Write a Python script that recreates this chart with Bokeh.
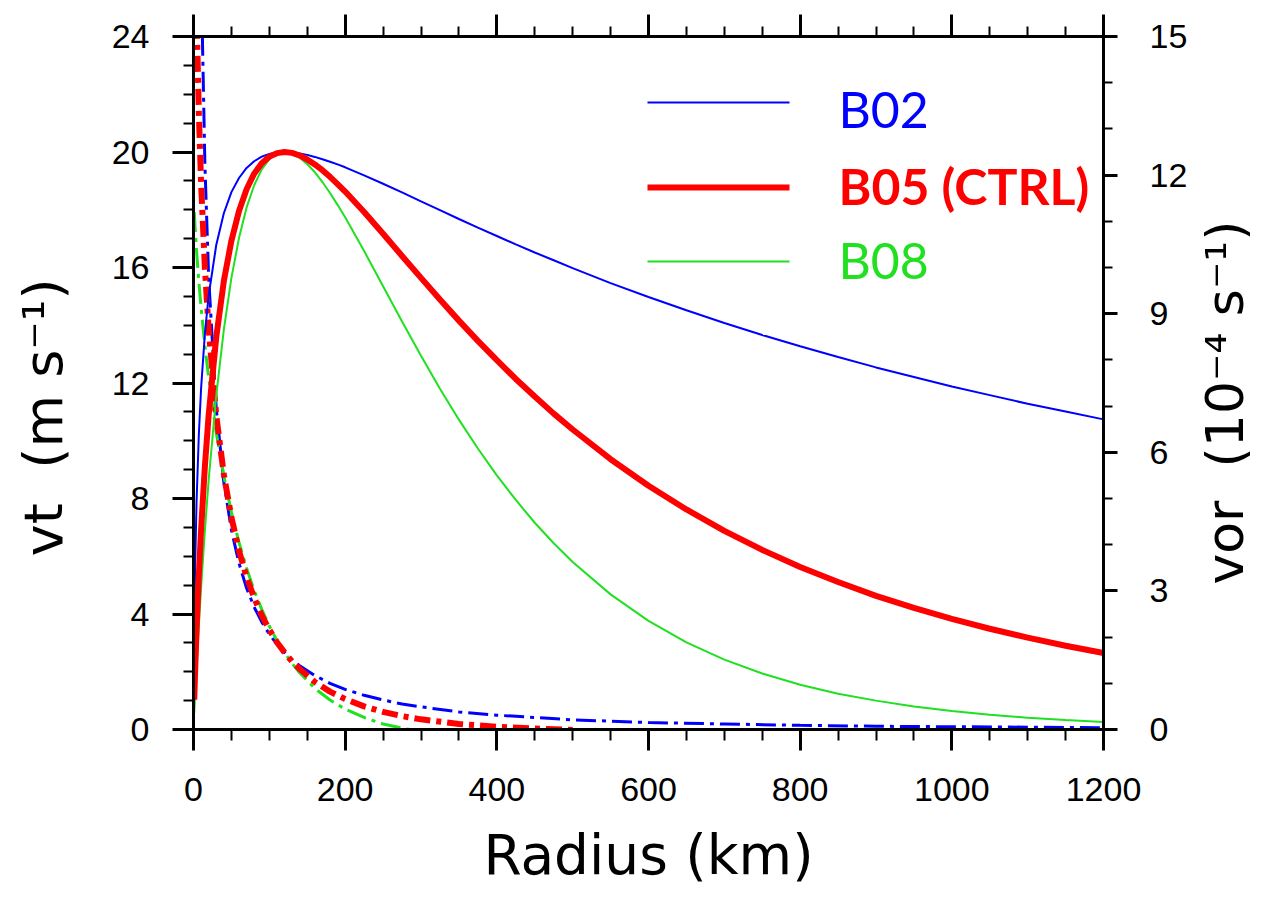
import numpy as np
from bokeh.plotting import figure
from bokeh.layouts import row
from bokeh.models import Range1d, LinearAxis, SingleIntervalTicker, Label, BoxAnnotation
from bokeh.embed import file_html
from bokeh.resources import INLINE

nan = float("nan")

# ---------------- data ----------------
radius_vt = [1, 2, 4, 7, 10, 15, 20, 30, 40, 50, 60, 70, 80, 90, 100, 110, 120,
             130, 140, 150, 160, 170, 180, 190, 200, 225, 250, 275, 300, 325, 350,
             375, 400, 425, 450, 475, 500, 550, 600, 650, 700, 750, 800, 850, 900,
             950, 1000, 1050, 1100, 1150, 1200]

# tangential wind vt (m s-1), left axis
vt_b02 = [3.63, 5.46, 7.86, 10.19, 11.81, 13.70, 15.03, 16.78, 17.88, 18.61, 19.10,
          19.45, 19.68, 19.84, 19.93, 19.99, 20.00, 19.99, 19.95, 19.90, 19.83, 19.75,
          19.66, 19.57, 19.47, 19.19, 18.90, 18.60, 18.29, 17.99, 17.68, 17.38, 17.09,
          16.80, 16.52, 16.25, 15.98, 15.46, 14.98, 14.52, 14.08, 13.66, 13.27, 12.90,
          12.54, 12.21, 11.88, 11.58, 11.28, 11.01, 10.74]
vt_b05 = [1.03, 1.90, 3.42, 5.32, 6.91, 9.11, 10.89, 13.59, 15.53, 16.93, 17.96,
          18.71, 19.25, 19.61, 19.84, 19.96, 20.00, 19.97, 19.88, 19.74, 19.57, 19.37,
          19.14, 18.89, 18.63, 17.92, 17.17, 16.40, 15.64, 14.89, 14.16, 13.46, 12.79,
          12.14, 11.53, 10.94, 10.39, 9.36, 8.44, 7.62, 6.88, 6.22, 5.63, 5.11,
          4.63, 4.21, 3.83, 3.49, 3.18, 2.90, 2.65]
vt_b08 = [0.57, 1.11, 2.14, 3.58, 4.90, 6.89, 8.64, 11.56, 13.85, 15.64, 17.02,
          18.08, 18.85, 19.40, 19.75, 19.94, 20.00, 19.95, 19.80, 19.58, 19.30, 18.96,
          18.58, 18.17, 17.74, 16.57, 15.35, 14.13, 12.94, 11.80, 10.73, 9.73, 8.80,
          7.95, 7.16, 6.45, 5.80, 4.68, 3.76, 3.02, 2.42, 1.94, 1.55, 1.24,
          1.00, 0.80, 0.64, 0.51, 0.41, 0.33, 0.26]

radius_vor = [1, 2, 4, 7, 10, 15, 20, 30, 40, 50, 60, 70, 80, 90, 100, 110, 120,
              130, 140, 160, 180, 200, 225, 250, 275, 300, 350, 400, 450, 500,
              600, 700, 800, 900, 1000, 1100, 1200]

# relative vorticity vor (10-4 s-1), right axis
vor_b02 = [58.65, 42.5, 29.35, 20.88, 16.44, 12.24, 9.78, 6.95, 5.35, 4.32, 3.60,
           3.06, 2.65, 2.33, 2.06, 1.85, 1.67, 1.51, 1.38, 1.17, 1.00, 0.87,
           0.74, 0.64, 0.55, 0.49, 0.38, 0.31, 0.26, 0.21, 0.15, 0.12, 0.09,
           0.07, 0.06, 0.05, 0.04]
vor_b05 = [19.58, 17.80, 15.54, 13.36, 11.83, 10.00, 8.66, 6.80, 5.52, 4.59, 3.87,
           3.30, 2.85, 2.47, 2.16, 1.89, 1.67, 1.47, 1.31, 1.03, 0.82, 0.66,
           0.50, 0.38, 0.29, 0.22, 0.12, 0.06, 0.02, -0.01, nan, nan, nan,
           nan, nan, nan, nan]
vor_b08 = [11.20, 10.89, 10.36, 9.70, 9.13, 8.31, 7.61, 6.43, 5.49, 4.70, 4.05,
           3.49, 3.01, 2.60, 2.24, 1.93, 1.67, 1.43, 1.23, 0.89, 0.64, 0.44,
           0.26, 0.12, 0.03, -0.04, nan, nan, nan, nan, nan, nan, nan,
           nan, nan, nan, nan]

x_ticks_step = 200
vt_ticks_step = 4
vor_ticks_step = 3

legend_labels = ["B02", "B05 (CTRL)", "B08"]

BLUE = "#0000ff"
RED = "#ff0000"
GREEN = "#20e020"
TICK_FONT = "Liberation Sans"
LABEL_FONT = "DejaVu Sans"
NB = "\u00a0"

# ---------------- main figure ----------------
p = figure(width=1192, height=889, output_backend="svg", toolbar_location=None,
           x_range=Range1d(0, 1200), y_range=Range1d(0, 24),
           x_axis_location=None, y_axis_location=None,
           min_border_left=193, min_border_right=89,
           min_border_top=36, min_border_bottom=160)
p.extra_y_ranges = {"vor": Range1d(0, 15)}
p.xgrid.visible = False
p.ygrid.visible = False
p.outline_line_color = None
p.background_fill_color = "white"
p.border_fill_color = "white"


def style_axis(ax, tick_out, minor_out, standoff):
    ax.axis_line_width = 3
    ax.axis_line_color = "black"
    ax.major_tick_line_width = 3
    ax.minor_tick_line_width = 2
    ax.major_tick_in = 0
    ax.major_tick_out = tick_out
    ax.minor_tick_in = 0
    ax.minor_tick_out = minor_out
    ax.major_label_text_font = TICK_FONT
    ax.major_label_text_font_size = "34px"
    ax.major_label_text_color = "black"
    ax.major_label_standoff = standoff
    ax.axis_label_text_font = LABEL_FONT
    ax.axis_label_text_font_style = "normal"
    ax.axis_label_text_color = "black"


left = LinearAxis(ticker=SingleIntervalTicker(interval=vt_ticks_step, num_minor_ticks=4))
style_axis(left, 21, 10, 23)
left.axis_label = "vt" + NB * 2 + "(m s\u207b\u00b9)" + NB * 4
left.axis_label_text_font_size = "54px"
left.axis_label_standoff = 34
p.add_layout(left, "left")

right = LinearAxis(y_range_name="vor",
                   ticker=SingleIntervalTicker(interval=vor_ticks_step, num_minor_ticks=3))
style_axis(right, 14, 9, 32)
p.add_layout(right, "right")

bottom = LinearAxis(ticker=SingleIntervalTicker(interval=x_ticks_step, num_minor_ticks=4))
style_axis(bottom, 21, 11, 27)
bottom.axis_label = "Radius (km)"
bottom.axis_label_text_font_size = "55px"
bottom.axis_label_standoff = 19
p.add_layout(bottom, "below")

top = LinearAxis(ticker=SingleIntervalTicker(interval=x_ticks_step, num_minor_ticks=4))
style_axis(top, 22, 10, 0)
top.major_label_text_font_size = "1px"
top.major_label_text_alpha = 0
p.add_layout(top, "above")

# ---------------- vorticity (dash-dot, right axis) ----------------
p.line(radius_vor, vor_b02, y_range_name="vor", line_color=BLUE, line_width=3,
       line_dash="20 6 4 6")
p.line(radius_vor, vor_b08, y_range_name="vor", line_color=GREEN, line_width=3,
       line_dash="20 6 4 6")
p.line(radius_vor, vor_b05, y_range_name="vor", line_color=RED, line_width=6,
       line_dash="16 6 5 6")

# ---------------- tangential wind (solid, left axis) ----------------
p.line(radius_vt, vt_b02, line_color=BLUE, line_width=2)
p.line(radius_vt, vt_b08, line_color=GREEN, line_width=2)
p.line(radius_vt, vt_b05, line_color=RED, line_width=6)

# ---------------- legend (screen units relative to frame) ----------------
legend_rows = [(legend_labels[0], BLUE, 2, 627, 621, "normal"),
               (legend_labels[1], RED, 6, 542, 544, "bold"),
               (legend_labels[2], GREEN, 2, 468, 470, "normal")]
for text, col, lw, ly, ty, style in legend_rows:
    p.add_layout(BoxAnnotation(left=454, right=596, bottom=ly - lw / 2, top=ly + lw / 2,
                               left_units="screen", right_units="screen",
                               bottom_units="screen", top_units="screen",
                               fill_color=col, fill_alpha=1.0, line_color=None))
    p.add_layout(Label(x=645, y=ty, x_units="screen", y_units="screen", text=text,
                       text_font="Lato", text_font_size="50px", text_font_style=style,
                       text_color=col, text_align="left", text_baseline="alphabetic"))

# ---------------- right-hand axis title (reads bottom-to-top) ----------------
p2 = figure(width=64, height=889, output_backend="svg", toolbar_location=None,
            x_range=Range1d(0, 1), y_range=Range1d(0, 1),
            x_axis_location=None, y_axis_location=None, min_border=0)
p2.xgrid.visible = False
p2.ygrid.visible = False
p2.outline_line_color = None
p2.background_fill_color = "white"
p2.border_fill_color = "white"
p2.add_layout(Label(x=32, y=327, x_units="screen", y_units="screen",
                    text="vor" + NB * 2 + "(10\u207b\u2074" + NB + "s\u207b\u00b9)",
                    angle=np.pi / 2, text_align="center", text_baseline="middle",
                    text_font=LABEL_FONT, text_font_size="52px", text_color="black"))

layout = row(p, p2, spacing=0)
open("out.html", "w").write(file_html(layout, INLINE))
